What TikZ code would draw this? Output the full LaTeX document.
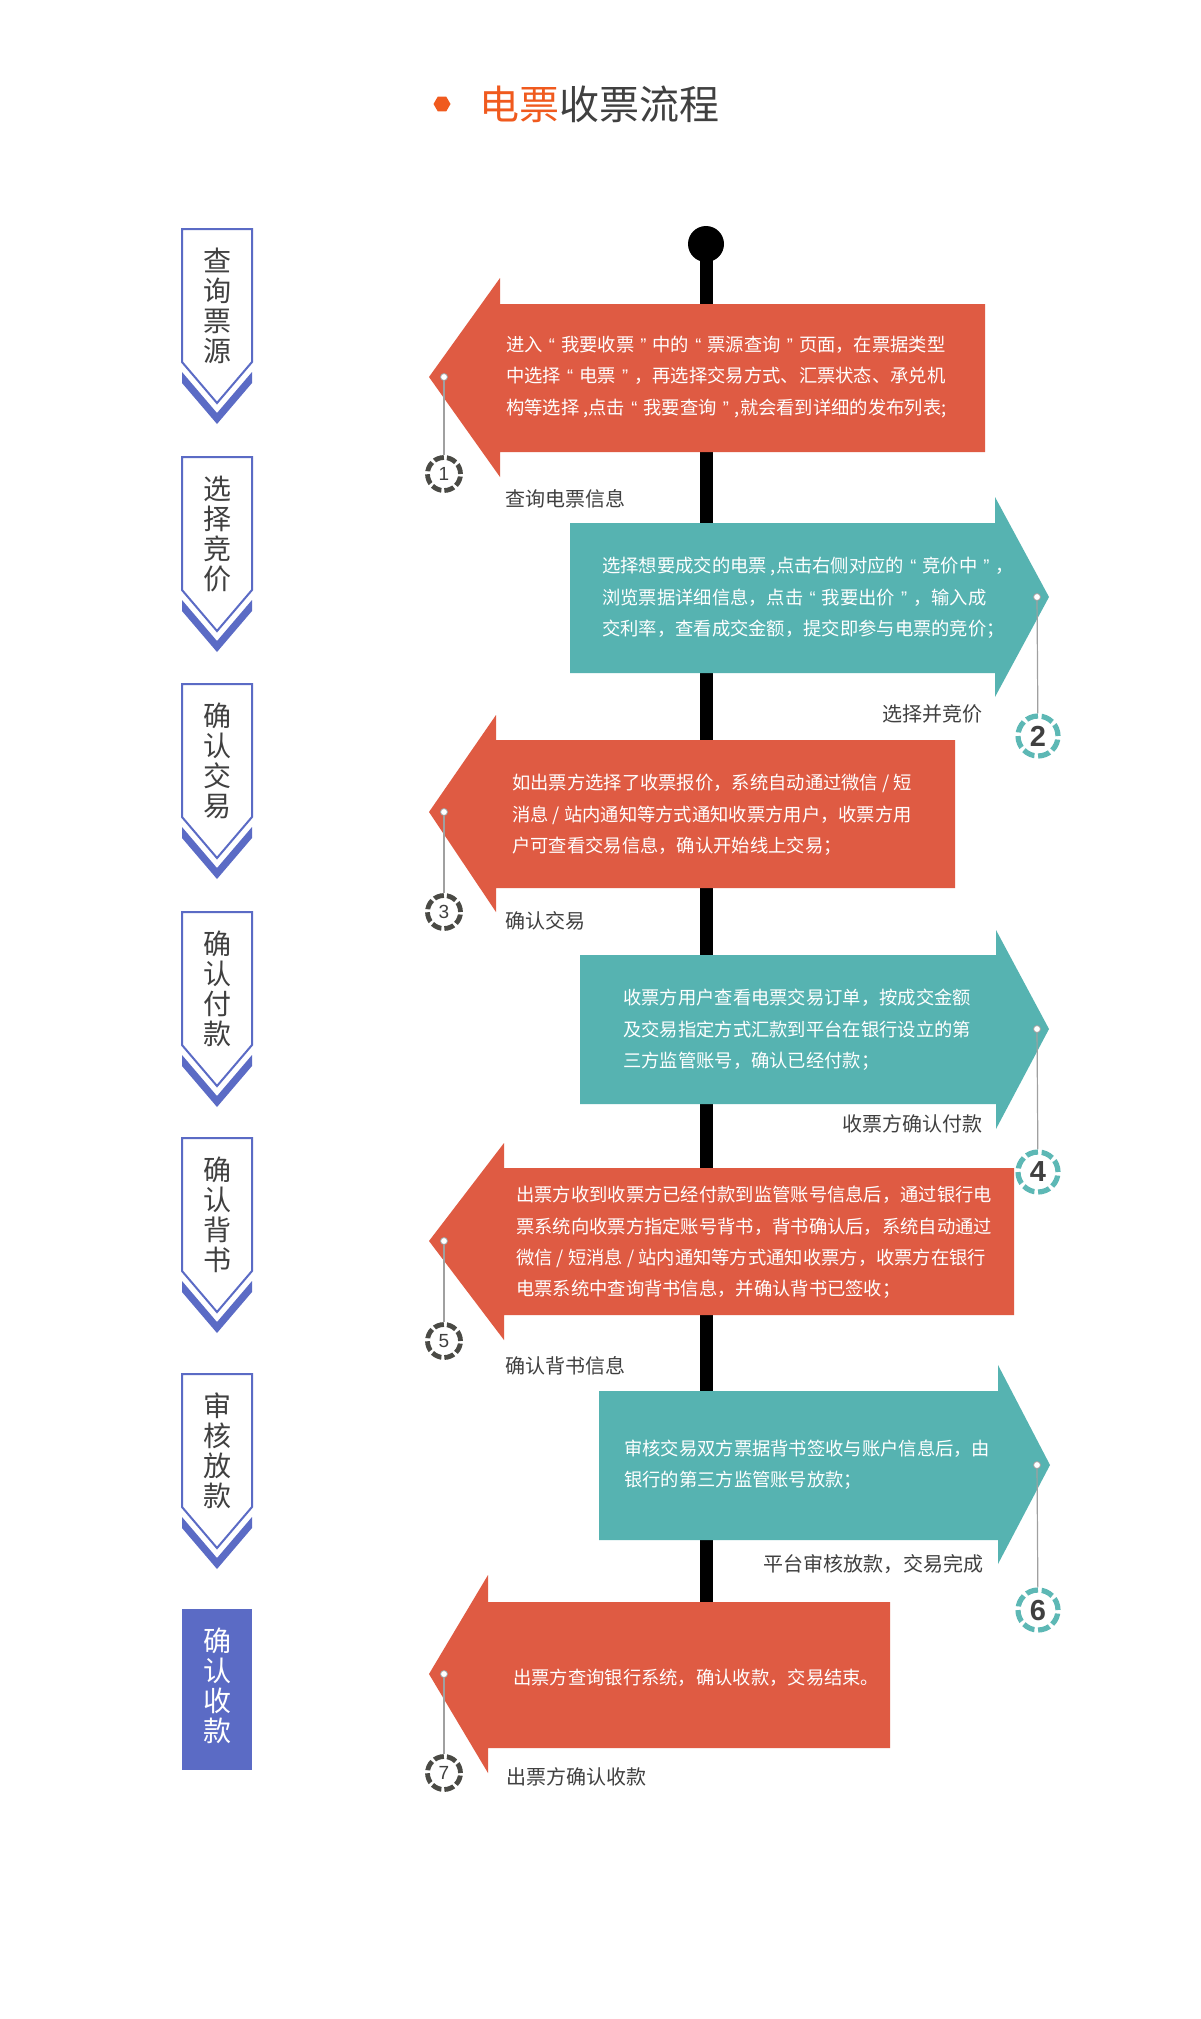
\documentclass[tikz,border=0pt]{standalone}
\usepackage{fontspec}
\setmainfont{Noto Sans CJK SC}
\newfontfamily\digitfont{Liberation Sans}
\usetikzlibrary{shapes.geometric}

\definecolor{flowred}{HTML}{DF5B43}
\definecolor{flowteal}{HTML}{56B3B1}
\definecolor{tabblue}{HTML}{5B6BC5}
\definecolor{titleorange}{HTML}{F05A1E}
\definecolor{textdark}{HTML}{404040}
\definecolor{ringdark}{HTML}{4A4A45}
\definecolor{ringteal}{HTML}{5DB8B5}
\definecolor{wiregray}{HTML}{A0A0A0}

% centred quotation marks, one em wide
\newcommand\qo{\makebox[1em]{\digitfont “}}
\newcommand\qc{\makebox[1em]{\digitfont ”}}

\begin{document}
\begin{tikzpicture}[x=1pt,y=-1pt,
  bodytext/.style={anchor=west, inner sep=0, text=white, align=left,
    font=\fontsize{18.3}{31.4}\selectfont},
  caption/.style={inner sep=0, text=textdark, font=\fontsize{20}{24}\selectfont},
  tabline/.style={draw=tabblue, line width=2, line join=miter},
  tabtext/.style={inner sep=0, text=textdark, align=center,
    font=\fontsize{28}{30}\selectfont},
  pin/.style={circle, fill=white, draw=wiregray, line width=0.8, minimum size=7, inner sep=0},
  wire/.style={draw=wiregray, line width=1.2},
  badgeL/.style={circle, draw=ringdark, line width=4.8, dash pattern=on 10 off 3,
    minimum size=33, inner sep=0, text=textdark, font=\digitfont\fontsize{19}{22}\selectfont},
  badgeR/.style={circle, draw=ringteal, line width=5.2, dash pattern=on 12 off 3.7,
    minimum size=40, inner sep=0, text=textdark, font=\digitfont\bfseries\fontsize{29}{32}\selectfont}
]
\fill[white] (0,0) rectangle (1200,2019);
\useasboundingbox (0,0) rectangle (1200,2019);

% heading
\node[regular polygon, regular polygon sides=6, fill=titleorange, minimum size=17, inner sep=0] (bullet) at (442,104) {};
\node[anchor=west, inner sep=0, text=textdark, font=\fontsize{40}{48}\selectfont] (title) at (479,104)
  {\textcolor{titleorange}{电票}收票流程};

% timeline spine
\node[circle, fill=black, minimum size=36, inner sep=0] (spinetop) at (706,244) {};
\coordinate (spineend) at (706,1640);
\draw[line width=13] (spinetop.center) -- (spineend);

% step tabs on the left
\foreach \t/\txt [count=\i] in {229/{查\\询\\票\\源},457/{选\\择\\竞\\价},684/{确\\认\\交\\易},
    912/{确\\认\\付\\款},1138/{确\\认\\背\\书},1374/{审\\核\\放\\款}}{
  \draw[tabline] (182,\t) -- (252,\t) -- (252,\t+133) -- (217,\t+174) -- (182,\t+133) -- cycle;
  \fill[tabblue] (182,\t+143) -- (217,\t+184) -- (252,\t+143) -- (252,\t+154) -- (217,\t+195) -- (182,\t+154) -- cycle;
  \node[tabtext] (tab\i) at (217,\t+77) {\txt};
}
\node[fill=tabblue, minimum width=70, minimum height=161, inner sep=0] (tab7box) at (217,1689.5) {};
\node[tabtext, text=white] (tab7) at (217,1686) {确\\认\\收\\款};

% step 1
\fill[flowred] (429,377) -- (500,278) -- (500,304) -- (985,304) -- (985,452) -- (500,452) -- (500,477) -- cycle;
\node[bodytext] (t1) at (506,377) {进入\qo{}我要收票\qc{}中的\qo{}票源查询\qc{}页面，在票据类型\\中选择\qo{}电票\qc{}，再选择交易方式、汇票状态、承兑机\\构等选择 ,点击\qo{}我要查询\qc{},就会看到详细的发布列表;};
\node[caption, anchor=west] (c1) at (505,499) {查询电票信息};
\node[pin] (p1) at (444,377) {};
\node[badgeL] (b1) at (444,474) {1};
\draw[wire] (p1) -- (b1);

% step 2
\fill[flowteal] (1049,597) -- (995,497) -- (995,523) -- (570,523) -- (570,673) -- (995,673) -- (995,697) -- cycle;
\node[bodytext] (t2) at (602,598) {选择想要成交的电票 ,点击右侧对应的\qo{}竞价中\qc{}，\\浏览票据详细信息，点击\qo{}我要出价\qc{}，输入成\\交利率，查看成交金额，提交即参与电票的竞价；};
\node[caption, anchor=east] (c2) at (983,714) {选择并竞价};
\node[pin] (p2) at (1037,597) {};
\node[badgeR] (b2) at (1038,736) {2};
\draw[wire] (p2) -- (b2);

% step 3
\fill[flowred] (429,812) -- (496,715) -- (496,740) -- (955,740) -- (955,888) -- (496,888) -- (496,912) -- cycle;
\node[bodytext] (t3) at (512,815) {如出票方选择了收票报价，系统自动通过微信 / 短\\消息 / 站内通知等方式通知收票方用户，收票方用\\户可查看交易信息，确认开始线上交易；};
\node[caption, anchor=west] (c3) at (505,921) {确认交易};
\node[pin] (p3) at (444,812) {};
\node[badgeL] (b3) at (444,912) {3};
\draw[wire] (p3) -- (b3);

% step 4
\fill[flowteal] (1049,1029) -- (996,930) -- (996,955) -- (580,955) -- (580,1104) -- (996,1104) -- (996,1129) -- cycle;
\node[bodytext] (t4) at (623,1030) {收票方用户查看电票交易订单，按成交金额\\及交易指定方式汇款到平台在银行设立的第\\三方监管账号，确认已经付款；};
\node[caption, anchor=east] (c4) at (983,1124) {收票方确认付款};
\node[pin] (p4) at (1037,1029) {};
\node[badgeR] (b4) at (1038,1172) {4};
\draw[wire] (p4) -- (b4);

% step 5
\fill[flowred] (429,1241) -- (504,1143) -- (504,1168) -- (1014,1168) -- (1014,1315) -- (504,1315) -- (504,1340) -- cycle;
\node[bodytext] (t5) at (516,1242.5) {出票方收到收票方已经付款到监管账号信息后，通过银行电\\票系统向收票方指定账号背书，背书确认后，系统自动通过\\微信 / 短消息 / 站内通知等方式通知收票方，收票方在银行\\电票系统中查询背书信息，并确认背书已签收；};
\node[caption, anchor=west] (c5) at (505,1366) {确认背书信息};
\node[pin] (p5) at (444,1241) {};
\node[badgeL] (b5) at (444,1341) {5};
\draw[wire] (p5) -- (b5);

% step 6
\fill[flowteal] (1050,1465) -- (998,1365) -- (998,1391) -- (599,1391) -- (599,1540) -- (998,1540) -- (998,1564) -- cycle;
\node[bodytext] (t6) at (624,1464.5) {审核交易双方票据背书签收与账户信息后，由\\银行的第三方监管账号放款；};
\node[caption, anchor=east] (c6) at (984,1564) {平台审核放款，交易完成};
\node[pin] (p6) at (1037,1465) {};
\node[badgeR] (b6) at (1038,1610) {6};
\draw[wire] (p6) -- (b6);

% step 7
\fill[flowred] (429,1674) -- (488,1575) -- (488,1602) -- (890,1602) -- (890,1748) -- (488,1748) -- (488,1773) -- cycle;
\node[bodytext] (t7) at (513,1678) {出票方查询银行系统，确认收款，交易结束。};
\node[caption, anchor=west] (c7) at (506,1777) {出票方确认收款};
\node[pin] (p7) at (444,1674) {};
\node[badgeL] (b7) at (444,1773) {7};
\draw[wire] (p7) -- (b7);
\end{tikzpicture}
\end{document}
